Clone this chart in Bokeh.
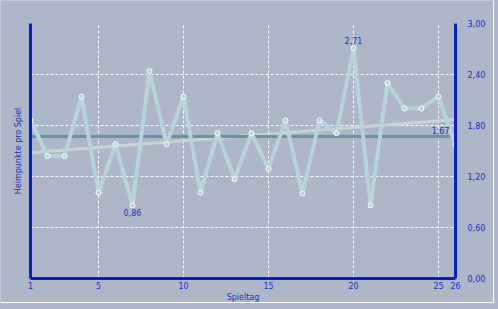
from bokeh.plotting import figure
from bokeh.layouts import column
from bokeh.models import Range1d, LinearAxis, FixedTicker, CustomJSTickFormatter
from bokeh.embed import file_html
from bokeh.resources import INLINE
from bokeh.core.properties import value

# ---- data ----
spieltag = list(range(1, 27))
punkte = [1.86, 1.44, 1.44, 2.14, 1.01, 1.58, 0.86, 2.44, 1.58, 2.14,
          1.01, 1.71, 1.17, 1.71, 1.29, 1.86, 1.00, 1.86, 1.71, 2.71,
          0.86, 2.30, 2.00, 2.00, 2.14, 1.57]
schnitt = 1.67
trend = [1.48, 1.87]
x_ticks = [1, 5, 10, 15, 20, 25, 26]
grid_x = [5, 10, 15, 20, 25]
y_ticks = [0.0, 0.6, 1.2, 1.8, 2.4, 3.0]

# ---- styles ----
BG = "#adb7c7"
AXIS = "#0b1ec6"
TXT = "#1a2ec0"
DATA = "#b6d4da"
TEAL = "#5a9aa1"
TREND = "#c7d5cf"
FONT = "DejaVu Sans"
FS = "8px"

def fmt(v):
    return ("%.2f" % v).replace(".", ",")

p = figure(width=494, height=303, x_range=Range1d(1, 26), y_range=Range1d(0, 3),
           output_backend="svg", toolbar_location=None,
           min_border_left=29, min_border_right=40, min_border_top=22, min_border_bottom=25,
           background_fill_color=BG, border_fill_color=BG, outline_line_color=None)
p.styles = {"border-top": "1px solid #c4cbd7", "border-left": "1px solid #c4cbd7",
            "border-right": "1px solid #ffffff", "border-bottom": "1px solid #ffffff"}

# bottom axis
xa = p.xaxis[0]
xa.ticker = FixedTicker(ticks=x_ticks)
xa.axis_line_color = AXIS
xa.axis_line_width = 3
xa.major_tick_line_color = None
xa.minor_tick_line_color = None
xa.major_tick_out = 0
xa.major_tick_in = 0
xa.major_label_standoff = 3
xa.major_label_text_font = FONT
xa.major_label_text_font_size = FS
xa.major_label_text_color = TXT
xa.axis_label = "Spieltag"
xa.axis_label_standoff = 1
xa.axis_label_text_font = FONT
xa.axis_label_text_font_size = FS
xa.axis_label_text_font_style = "normal"
xa.axis_label_text_color = TXT

# left axis
ya = p.yaxis[0]
ya.ticker = FixedTicker(ticks=[])
ya.axis_line_color = AXIS
ya.axis_line_width = 3
ya.major_tick_line_color = None
ya.minor_tick_line_color = None
ya.major_tick_out = 0
ya.major_tick_in = 0
ya.major_label_standoff = 0
ya.major_label_text_font_size = "0px"
ya.axis_label = "Heimpunkte pro Spiel"
ya.axis_label_standoff = 8
ya.axis_label_text_font = FONT
ya.axis_label_text_font_size = FS
ya.axis_label_text_font_style = "normal"
ya.axis_label_text_color = TXT

# right axis
ra = LinearAxis(ticker=FixedTicker(ticks=y_ticks),
                formatter=CustomJSTickFormatter(code="return tick.toFixed(2).replace('.', ',');"))
ra.axis_line_color = AXIS
ra.axis_line_width = 3
ra.major_tick_line_color = None
ra.minor_tick_line_color = None
ra.major_tick_out = 0
ra.major_tick_in = 0
ra.major_label_standoff = 12
ra.major_label_text_font = FONT
ra.major_label_text_font_size = FS
ra.major_label_text_color = TXT
p.add_layout(ra, "right")

# grids
p.xgrid.ticker = FixedTicker(ticks=grid_x)
p.ygrid.ticker = FixedTicker(ticks=y_ticks[1:])
for g in (p.xgrid, p.ygrid):
    g.grid_line_color = "white"
    g.grid_line_width = 1
    g.grid_line_dash = "3 2"

# series
p.line([spieltag[0], spieltag[-1]], trend, line_color=TREND, line_width=3)
p.line([spieltag[0], spieltag[-1]], [schnitt, schnitt], line_color=TEAL, line_width=3)
p.line(spieltag, punkte, line_color=DATA, line_width=4)
p.scatter(spieltag, punkte, size=5, fill_color=DATA, line_color="white", line_width=1)

# value labels
imax = punkte.index(max(punkte))
imin = punkte.index(min(punkte))
common = dict(text_font=value(FONT), text_font_size=FS, text_color=TXT)
p.text(x=[spieltag[imax]], y=[punkte[imax]], text=[fmt(punkte[imax])],
       text_align="center", text_baseline="bottom", y_offset=-4, **common)
p.text(x=[spieltag[imin]], y=[punkte[imin]], text=[fmt(punkte[imin])],
       text_align="center", text_baseline="top", y_offset=4, **common)
p.text(x=[spieltag[-1]], y=[schnitt], text=[fmt(schnitt)],
       text_align="right", text_baseline="bottom", x_offset=-6, y_offset=-3, **common)

layout = column(p, width=498, height=309, styles={"background-color": BG})

open("out.html", "w").write(file_html(layout, INLINE))
